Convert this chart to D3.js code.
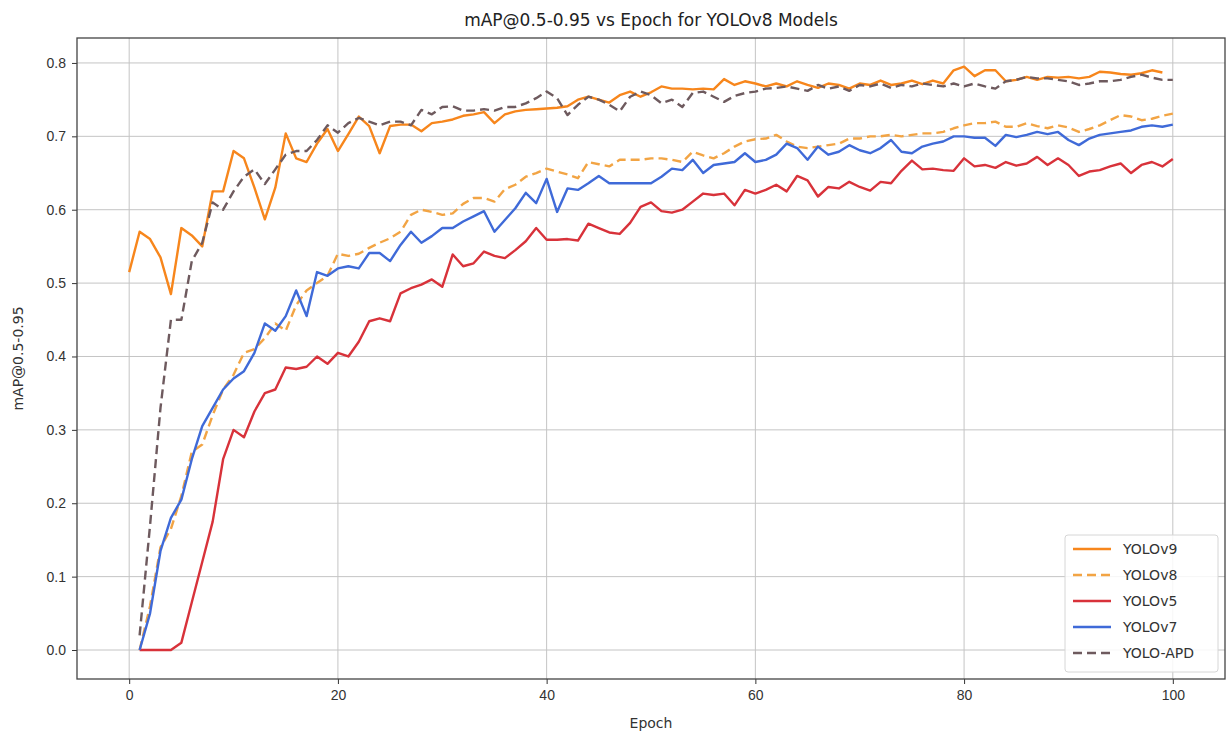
<!DOCTYPE html>
<html>
<head>
<meta charset="utf-8">
<script src="https://cdn.jsdelivr.net/npm/d3@7"></script>
<style>
  body { margin: 0; background: #fff; }
  svg { font-family: "DejaVu Sans", sans-serif; }
</style>
</head>
<body>
<div id="chart"></div>
<script>
const yolov9 = [0.515, 0.57, 0.56, 0.535, 0.485, 0.575, 0.565, 0.55, 0.625, 0.625,
  0.68, 0.67, 0.63, 0.587, 0.63, 0.704, 0.67, 0.665, 0.69, 0.71,
  0.68, 0.703, 0.727, 0.714, 0.677, 0.714, 0.716, 0.716, 0.707, 0.718,
  0.72, 0.723, 0.728, 0.73, 0.733, 0.718, 0.73, 0.734, 0.736, 0.737,
  0.738, 0.739, 0.741, 0.75, 0.754, 0.75, 0.746, 0.756, 0.761, 0.754,
  0.76, 0.768, 0.765, 0.765, 0.764, 0.765, 0.764, 0.778, 0.77, 0.775,
  0.772, 0.768, 0.772, 0.768, 0.775, 0.77, 0.766, 0.772, 0.77, 0.765,
  0.772, 0.77, 0.776, 0.77, 0.772, 0.776, 0.771, 0.776, 0.772, 0.79,
  0.795, 0.782, 0.79, 0.79, 0.775, 0.777, 0.781, 0.777, 0.781, 0.78,
  0.781, 0.779, 0.781, 0.788, 0.787, 0.785, 0.784, 0.786, 0.79, 0.787];

const yolov8 = [0.0, 0.06, 0.14, 0.165, 0.21, 0.27, 0.28, 0.32, 0.355, 0.375,
  0.405, 0.41, 0.425, 0.445, 0.435, 0.47, 0.49, 0.5, 0.51, 0.54,
  0.537, 0.54, 0.548, 0.555, 0.561, 0.57, 0.593, 0.6, 0.597, 0.593,
  0.595, 0.608, 0.616, 0.616, 0.611, 0.628, 0.634, 0.645, 0.65, 0.656,
  0.652, 0.648, 0.643, 0.665, 0.662, 0.659, 0.668, 0.668, 0.668, 0.67,
  0.67, 0.668, 0.665, 0.679, 0.674, 0.67, 0.677, 0.686, 0.693, 0.696,
  0.697, 0.702, 0.693, 0.686, 0.684, 0.686, 0.688, 0.69, 0.697, 0.697,
  0.7, 0.7, 0.702, 0.7, 0.702, 0.704, 0.704, 0.706, 0.711, 0.715,
  0.718, 0.718, 0.72, 0.713, 0.713, 0.718, 0.714, 0.711, 0.715, 0.712,
  0.706, 0.71, 0.715, 0.722, 0.729, 0.727, 0.722, 0.724, 0.728, 0.731];

const yolov5 = [0.0, 0.0, 0.0, 0.0, 0.01, 0.065, 0.12, 0.175, 0.26, 0.3,
  0.29, 0.325, 0.35, 0.355, 0.385, 0.383, 0.386, 0.4, 0.39, 0.405,
  0.4, 0.42, 0.448, 0.452, 0.448, 0.486, 0.493, 0.498, 0.505, 0.495,
  0.539, 0.523, 0.527, 0.543, 0.537, 0.534, 0.545, 0.557, 0.575, 0.559,
  0.559, 0.56, 0.558, 0.581, 0.575, 0.569, 0.567, 0.582, 0.604, 0.61,
  0.598, 0.596, 0.6, 0.611, 0.622, 0.62, 0.622, 0.606, 0.627, 0.622,
  0.627, 0.634, 0.625, 0.646, 0.64, 0.618, 0.631, 0.629, 0.638, 0.631,
  0.626, 0.638, 0.636, 0.653, 0.667, 0.655, 0.656, 0.654, 0.653, 0.67,
  0.659, 0.661, 0.657, 0.665, 0.66, 0.663, 0.672, 0.661, 0.67, 0.661,
  0.646, 0.652, 0.654, 0.659, 0.663, 0.65, 0.661, 0.665, 0.659, 0.669];

const yolov7 = [0.0, 0.05, 0.135, 0.18, 0.205, 0.26, 0.305, 0.33, 0.355, 0.37,
  0.38, 0.405, 0.445, 0.435, 0.455, 0.49, 0.455, 0.515, 0.51, 0.52,
  0.523, 0.52, 0.541, 0.541, 0.53, 0.552, 0.57, 0.555, 0.564, 0.575,
  0.575, 0.584, 0.591, 0.598, 0.57, 0.586, 0.602, 0.623, 0.609, 0.642,
  0.597, 0.629, 0.627, 0.636, 0.646, 0.636, 0.636, 0.636, 0.636, 0.636,
  0.645, 0.656, 0.654, 0.668, 0.65, 0.661, 0.663, 0.665, 0.677, 0.665,
  0.668, 0.675, 0.69, 0.684, 0.668, 0.686, 0.675, 0.679, 0.688, 0.681,
  0.677, 0.684, 0.695, 0.679, 0.677, 0.686, 0.69, 0.693, 0.7, 0.7,
  0.698, 0.698, 0.687, 0.702, 0.699, 0.702, 0.706, 0.703, 0.706, 0.695,
  0.688, 0.697, 0.702, 0.704, 0.706, 0.708, 0.713, 0.715, 0.713, 0.716];

const yoloApd = [0.02, 0.17, 0.33, 0.45, 0.45, 0.53, 0.555, 0.61, 0.6, 0.625,
  0.645, 0.655, 0.635, 0.655, 0.675, 0.68, 0.68, 0.695, 0.715, 0.705,
  0.718, 0.725, 0.72, 0.715, 0.72, 0.72, 0.715, 0.736, 0.73, 0.74,
  0.741, 0.735, 0.735, 0.737, 0.735, 0.74, 0.74, 0.745, 0.752, 0.761,
  0.752, 0.729, 0.743, 0.754, 0.75, 0.743, 0.734, 0.754, 0.761, 0.756,
  0.745, 0.75, 0.74, 0.759, 0.761, 0.754, 0.747, 0.755, 0.759, 0.761,
  0.765, 0.766, 0.768, 0.765, 0.762, 0.77, 0.765, 0.768, 0.762, 0.77,
  0.768, 0.772, 0.766, 0.77, 0.768, 0.772, 0.77, 0.768, 0.772, 0.768,
  0.772, 0.768, 0.765, 0.775, 0.777, 0.781, 0.779, 0.779, 0.777, 0.775,
  0.77, 0.772, 0.775, 0.775, 0.777, 0.781, 0.784, 0.78, 0.777, 0.777];

const xTicks = [0, 20, 40, 60, 80, 100];
const yTicks = [0.0, 0.1, 0.2, 0.3, 0.4, 0.5, 0.6, 0.7, 0.8];

// v9 runs epochs 0..99, the others 1..100
const series = [
  { name: "YOLOv9", values: yolov9, start: 0, color: "#f7861c", dash: null },
  { name: "YOLOv8", values: yolov8, start: 1, color: "#f2a444", dash: "9,5" },
  { name: "YOLOv5", values: yolov5, start: 1, color: "#d8323a", dash: null },
  { name: "YOLOv7", values: yolov7, start: 1, color: "#3f6ad8", dash: null },
  { name: "YOLO-APD", values: yoloApd, start: 1, color: "#6e5a5e", dash: "9,5" }
];

const width = 1227;
const height = 736;
const margin = { top: 38, right: 2, bottom: 57, left: 77 };

const svg = d3.select("#chart")
  .append("svg")
  .attr("width", width)
  .attr("height", height);

const x = d3.scaleLinear()
  .domain([-5, 105])
  .range([margin.left, width - margin.right]);

const y = d3.scaleLinear()
  .domain([-0.0395, 0.834])
  .range([height - margin.bottom, margin.top]);

// grid
const grid = svg.append("g").attr("stroke", "#c4c4c4").attr("stroke-width", 1);
grid.selectAll(".gx").data(xTicks).join("line")
  .attr("x1", d => x(d)).attr("x2", d => x(d))
  .attr("y1", margin.top).attr("y2", height - margin.bottom);
grid.selectAll(".gy").data(yTicks).join("line")
  .attr("x1", margin.left).attr("x2", width - margin.right)
  .attr("y1", d => y(d)).attr("y2", d => y(d));

const line = d3.line()
  .x(d => x(d[0]))
  .y(d => y(d[1]));

svg.append("g")
  .selectAll("path")
  .data(series)
  .join("path")
  .attr("fill", "none")
  .attr("stroke", d => d.color)
  .attr("stroke-width", 2.4)
  .attr("stroke-linejoin", "round")
  .attr("stroke-dasharray", d => d.dash)
  .attr("d", d => line(d.values.map((v, i) => [d.start + i, v])));

// axes
const xAxis = svg.append("g")
  .attr("transform", `translate(0,${height - margin.bottom})`)
  .call(d3.axisBottom(x).tickValues(xTicks).tickSize(5).tickPadding(6).tickFormat(d3.format("d")));
const yAxis = svg.append("g")
  .attr("transform", `translate(${margin.left},0)`)
  .call(d3.axisLeft(y).tickValues(yTicks).tickSize(5).tickPadding(6).tickFormat(d3.format(".1f")));

[xAxis, yAxis].forEach(a => {
  a.select(".domain").remove();
  a.selectAll("line").attr("stroke", "#333");
  a.selectAll("text").attr("fill", "#333").style("font-size", "14px");
});

svg.append("rect")
  .attr("x", margin.left).attr("y", margin.top)
  .attr("width", width - margin.left - margin.right)
  .attr("height", height - margin.top - margin.bottom)
  .attr("fill", "none")
  .attr("stroke", "#444")
  .attr("stroke-width", 1.3);

svg.append("text")
  .attr("x", (margin.left + width - margin.right) / 2)
  .attr("y", 26)
  .attr("text-anchor", "middle")
  .attr("fill", "#222")
  .style("font-size", "17px")
  .text("mAP@0.5-0.95 vs Epoch for YOLOv8 Models");

svg.append("text")
  .attr("x", (margin.left + width - margin.right) / 2)
  .attr("y", 728)
  .attr("text-anchor", "middle")
  .attr("fill", "#333")
  .style("font-size", "14px")
  .text("Epoch");

svg.append("text")
  .attr("transform", `translate(23,${(margin.top + height - margin.bottom) / 2}) rotate(-90)`)
  .attr("text-anchor", "middle")
  .attr("fill", "#333")
  .style("font-size", "14px")
  .text("mAP@0.5-0.95");

// legend
const legend = svg.append("g").attr("transform", "translate(1065,535)");
legend.append("rect")
  .attr("width", 153).attr("height", 137)
  .attr("rx", 3)
  .attr("fill", "#fff").attr("fill-opacity", 0.85)
  .attr("stroke", "#d6d6d6");

const item = legend.selectAll(".item")
  .data(series)
  .join("g")
  .attr("transform", (d, i) => `translate(0,${14 + i * 26})`);

item.append("line")
  .attr("x1", 8).attr("x2", 46)
  .attr("stroke", d => d.color)
  .attr("stroke-width", 2.4)
  .attr("stroke-dasharray", d => d.dash);

item.append("text")
  .attr("x", 58)
  .attr("dy", "0.35em")
  .attr("fill", "#333")
  .style("font-size", "14px")
  .text(d => d.name);
</script>
</body>
</html>
